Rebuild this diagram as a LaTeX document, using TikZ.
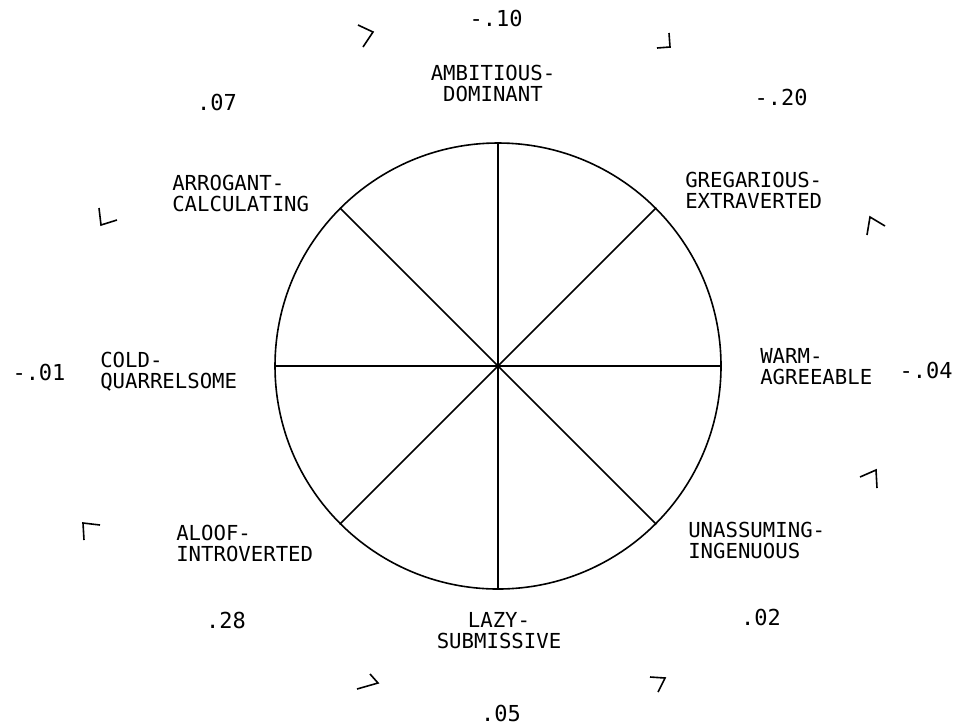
\documentclass[tikz,border=0pt]{standalone}
\usepackage{fontspec}
\setmonofont{DejaVu Sans Mono}
\usepackage{tikz}
\usetikzlibrary{shapes.geometric, positioning, calc}

\begin{document}
\begin{tikzpicture}[x=0.75pt, y=-0.75pt,
  trait/.style={inner sep=0pt, align=left, font=\ttfamily\fontsize{15.5}{15.75}\selectfont},
  weight/.style={inner sep=0pt, font=\ttfamily\fontsize{16.5}{16.5}\selectfont},
  tick/.style={line width=1.2pt, line join=miter}]
\useasboundingbox (0,0) rectangle (962,726);
% Circle and spokes
\coordinate (c) at (498,366);
\node[circle, draw, line width=1.2pt, minimum size=334.5pt, inner sep=0pt] (wheel) at (c) {};
\draw[line width=1.2pt] (wheel.north) -- (wheel.south);
\draw[line width=1.2pt] (wheel.west) -- (wheel.east);
\draw[line width=1.2pt] (wheel.north west) -- (wheel.south east);
\draw[line width=1.2pt] (wheel.north east) -- (wheel.south west);
% Octant labels
\node[trait, align=center, anchor=north] (ambitious) at (493,65) {AMBITIOUS-\\DOMINANT};
\node[trait, anchor=north west] (gregarious) at (685,172) {GREGARIOUS-\\EXTRAVERTED};
\node[trait, anchor=north west] (warm) at (760,348) {WARM-\\AGREEABLE};
\node[trait, anchor=north west] (unassuming) at (688,522) {UNASSUMING-\\INGENUOUS};
\node[trait, align=center, anchor=north] (lazy) at (499,612) {LAZY-\\SUBMISSIVE};
\node[trait, anchor=north west] (aloof) at (176,525) {ALOOF-\\INTROVERTED};
\node[trait, anchor=north west] (cold) at (100,352) {COLD-\\QUARRELSOME};
\node[trait, anchor=north west] (arrogant) at (172,175) {ARROGANT-\\CALCULATING};
% Values
\node[weight] (vPA) at (496,18) {-.10};
\node[weight] (vNO) at (781,97) {-.20};
\node[weight] (vLM) at (926,370) {-.04};
\node[weight] (vJK) at (761,617) {.02};
\node[weight] (vHI) at (501,713) {.05};
\node[weight] (vFG) at (226,620) {.28};
\node[weight] (vDE) at (39,372) {-.01};
\node[weight] (vBC) at (217,102) {.07};
% Octant boundary marks
\draw[tick] (358,25) -- (373,32) -- (363,47);
\draw[tick] (657,48) -- (670,47) -- (669,33);
\draw[tick] (867,235) -- (870,217) -- (885,226);
\draw[tick] (860,477) -- (876,470) -- (877,488);
\draw[tick] (650,677) -- (665,678) -- (658,692);
\draw[tick] (370,674) -- (378,683) -- (357,689);
\draw[tick] (100,525) -- (83,523) -- (84,540);
\draw[tick] (99,208) -- (101,225) -- (117,220);
\end{tikzpicture}
\end{document}
